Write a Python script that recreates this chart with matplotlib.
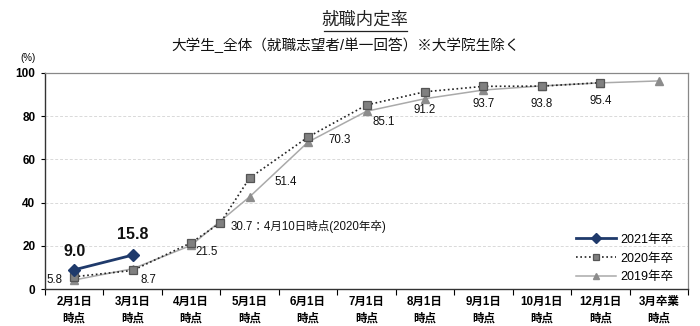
import matplotlib
matplotlib.use("Agg")
import matplotlib.pyplot as plt
import numpy as np

plt.rcParams['font.family'] = ['Liberation Sans', 'Noto Sans CJK JP', 'DejaVu Sans']

# Survey points (category labels on the x axis)
categories = ["2月1日\n時点", "3月1日\n時点", "4月1日\n時点", "5月1日\n時点", "6月1日\n時点",
              "7月1日\n時点", "8月1日\n時点", "9月1日\n時点", "10月1日\n時点", "12月1日\n時点",
              "3月卒業\n時点"]

# Job offer rates (%)
pos_2021 = [0, 1]
rate_2021 = [9.0, 15.8]

pos_2020 = [0, 1, 2, 2.5, 3, 4, 5, 6, 7, 8, 9]
rate_2020 = [5.8, 8.7, 21.5, 30.7, 51.4, 70.3, 85.1, 91.2, 93.7, 93.8, 95.4]

pos_2019 = [0, 1, 2, 3, 4, 5, 6, 7, 8, 9, 10]
rate_2019 = [4.3, 9.5, 20.3, 42.7, 68.0, 82.2, 88.0, 92.0, 93.9, 95.3, 96.2]

fig = plt.figure(figsize=(7.0, 3.26), dpi=100)
ax = fig.add_axes([0.0643, 0.1126, 0.9187, 0.6644])

ax.plot(pos_2019, rate_2019, color="#AAAAAA", lw=1.1, marker="^", ms=6,
        mfc="#8C8C8C", mec="#8C8C8C", label="2019年卒", zorder=2)
ax.plot(pos_2020, rate_2020, color="#222222", lw=1.2, ls=(0, (1, 1.6)), marker="s", ms=5.8,
        mfc="#808080", mec="#555555", mew=0.9, label="2020年卒", zorder=3)
ax.plot(pos_2021, rate_2021, color="#1F3A6B", lw=2.0, marker="D", ms=6.2,
        mfc="#1F3A6B", mec="#1F3A6B", label="2021年卒", zorder=4)

# Value labels
def lbl(x, y, s, dx, dy, ha="center", size=8.3, **kw):
    ax.annotate(s, (x, y), xytext=(dx, dy), textcoords="offset points",
                ha=ha, va="center", fontsize=size, color="#111111", **kw)

lbl(pos_2021[0], rate_2021[0], f"{rate_2021[0]:.1f}", 0, 13, size=11.5, fontweight="bold")
lbl(pos_2021[1], rate_2021[1], f"{rate_2021[1]:.1f}", 0, 15, size=11.5, fontweight="bold")

offsets_2020 = [(-14, -2), (11, -7), (11, -7), (7, -3), (26, -3), (23, -2), (12, -12),
                (0, -13), (0, -13), (0, -13), (0, -13)]
for (x, y, (dx, dy)) in zip(pos_2020, rate_2020, offsets_2020):
    if x == 2.5:
        lbl(x, y, f"{y:.1f}：4月10日時点(2020年卒)", dx, dy, ha="left", size=8.3)
    else:
        lbl(x, y, f"{y:.1f}", dx, dy, size=8.3)

ax.set_xlim(-0.5, 10.5)
ax.set_ylim(0, 100)
ax.set_xticks(np.arange(len(categories)))
ax.set_xticklabels(categories, fontsize=8.3, fontweight="bold", linespacing=1.5)
ax.set_xticks(np.arange(-0.5, 10.6, 1), minor=True)
ax.tick_params(axis="x", which="major", length=0, pad=5)
ax.tick_params(axis="x", which="minor", length=4, width=0.8, direction="out")
ax.set_yticks(np.arange(0, 101, 20))
ax.tick_params(axis="y", length=3, width=0.8, labelsize=8.5, pad=4)
for t in ax.get_yticklabels():
    t.set_fontweight("bold")

for v in [20, 40, 60, 80]:
    ax.axhline(v, color="#D9D9D9", lw=0.7, ls=(0, (3, 2)), zorder=0)

for s in ["top", "right"]:
    ax.spines[s].set_color("#888888")
    ax.spines[s].set_linewidth(0.9)
for s in ["left", "bottom"]:
    ax.spines[s].set_color("#333333")
    ax.spines[s].set_linewidth(1.0)

h, l = ax.get_legend_handles_labels()
ax.legend(h[::-1], l[::-1], loc="lower right", frameon=False, fontsize=9,
          handlelength=3.2, handletextpad=0.4, labelspacing=0.55, markerscale=0.75,
          bbox_to_anchor=(0.995, -0.025))

fig.text(0.04, 0.822, "(%)", fontsize=7, ha="center", va="center")
fig.text(0.522, 0.94, "就職内定率", fontsize=12.5, ha="center", va="center", color="#222222")
fig.add_artist(plt.Line2D([0.463, 0.581], [0.905, 0.905], color="#222222", lw=0.9))
fig.text(0.494, 0.862, "大学生_全体（就職志望者/単一回答）※大学院生除く", fontsize=10.5,
         ha="center", va="center", color="#111111")

fig.savefig("out.png", dpi=100)
